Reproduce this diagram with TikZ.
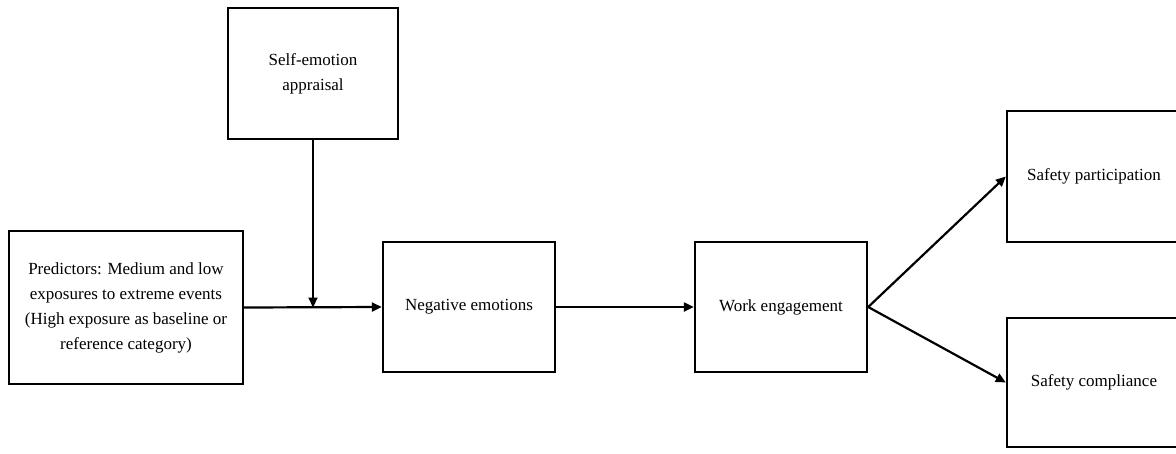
\documentclass[tikz,border=0pt]{standalone}
\usepackage{fontspec}
\setmainfont{Liberation Serif}
\usetikzlibrary{arrows.meta}
\tikzset{
  box/.style={draw,line width=2.4pt,align=center,inner sep=0pt,font=\fontsize{17}{25}\selectfont},
  link/.style={line width=2.2pt,-{Triangle[length=10pt,width=9pt]}}
}
\begin{document}
\begin{tikzpicture}[x=1pt,y=-1pt]
\useasboundingbox (0,0) rectangle (1176,453);
% boxes
\node[box,minimum width=234pt,minimum height=153pt] (pred) at (126,307.5)
  {Predictors: Medium and low\\exposures to extreme events\\(High exposure as baseline or\\reference category)};
\node[box,minimum width=170pt,minimum height=131pt] (sea) at (313,73.5) {Self-emotion\\appraisal};
\node[box,minimum width=172pt,minimum height=130pt] (neg) at (469,307) {Negative emotions};
\node[box,minimum width=172pt,minimum height=130pt] (we) at (781,307) {Work engagement};
\node[box,minimum width=174pt,minimum height=131pt] (sp) at (1094,176.5) {Safety participation};
\node[box,minimum width=174pt,minimum height=129pt] (sc) at (1094,382.5) {Safety compliance};
% arrows
\draw[link] (pred.east) -- (neg.west);
\draw[link] (sea.south) -- (sea.south |- pred.east);
\draw[link] (neg.east) -- (we.west);
\draw[link] (we.east) -- (sp.west);
\draw[link] (we.east) -- (sc.west);
\end{tikzpicture}
\end{document}
